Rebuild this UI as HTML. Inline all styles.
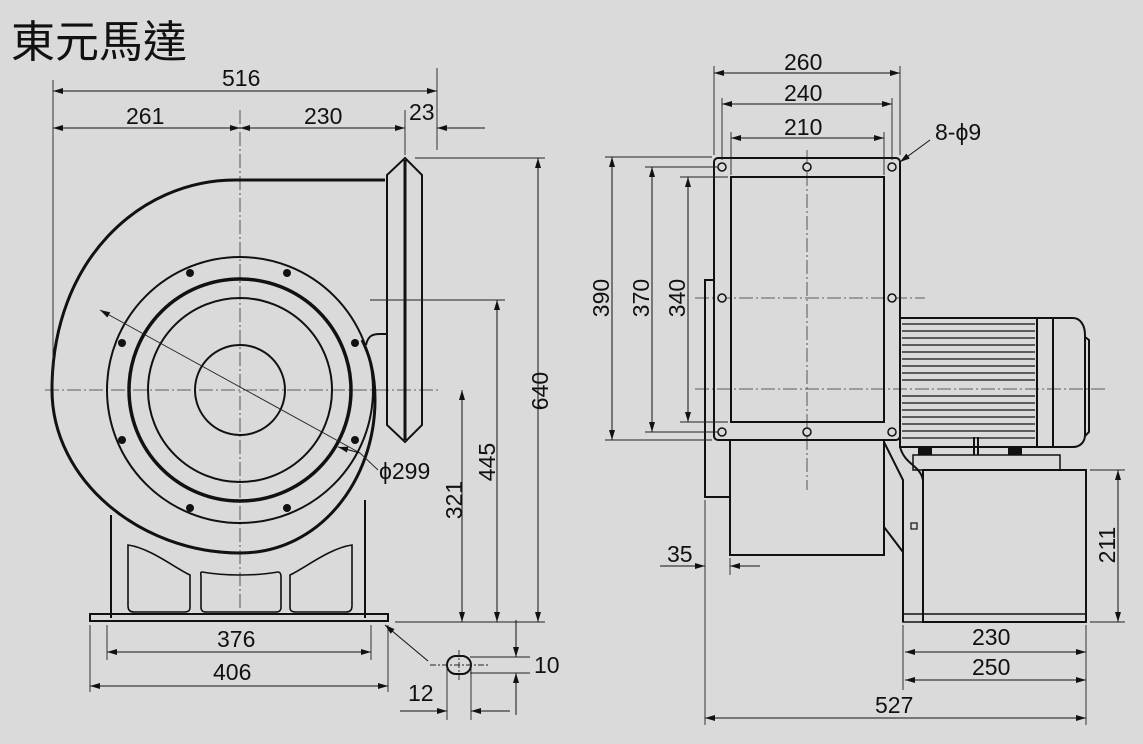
<!DOCTYPE html>
<html><head><meta charset="utf-8"><style>
html,body{margin:0;padding:0;background:#dadada;}
svg{display:block}
text{font-family:"Liberation Sans","Noto Sans CJK TC",sans-serif;fill:#111;font-size:23px}
</style></head><body>
<svg width="1143" height="744" viewBox="0 0 1143 744" xmlns="http://www.w3.org/2000/svg">
<defs>
<marker id="a" viewBox="0 0 10 6" refX="10" refY="3" markerWidth="14" markerHeight="6" markerUnits="userSpaceOnUse" orient="auto-start-reverse"><path d="M0,0 L10,3 L0,6 z" fill="#111"/></marker>
</defs>
<rect width="1143" height="744" fill="#dadada"/>
<text x="11" y="57" style="font-size:44px">東元馬達</text>

<g stroke="#333" stroke-width="0.8" stroke-dasharray="14,3,2,3" fill="none">
<line x1="240" y1="110" x2="240" y2="610"/>
<line x1="45" y1="390" x2="440" y2="390"/>
<line x1="807" y1="150" x2="807" y2="490"/>
<line x1="695" y1="298" x2="925" y2="298"/>
<line x1="695" y1="389" x2="1105" y2="389"/>
</g>

<g stroke="#111" fill="none">
<path d="M385,180 L235,180 C140,180 52,260 52,390 C52,480 140,553 240,553 C320,553 375,480 375,400 C375,370 368,352 362,340" stroke-width="3"/>
<path d="M366,345 C368,336 372,334 380,334 L387,334" stroke-width="2"/>
<polygon points="405,158 422,175 422,425 405,442 387,425 387,175" stroke-width="2"/>
<line x1="405" y1="160" x2="405" y2="440" stroke-width="3"/>
<circle cx="240" cy="390" r="133" stroke-width="2"/>
<circle cx="240" cy="390" r="111" stroke-width="3.5"/>
<circle cx="240" cy="390" r="92" stroke-width="2"/>
<circle cx="240" cy="390" r="45" stroke-width="2"/>
<line x1="111" y1="515" x2="111" y2="618" stroke-width="2"/>
<line x1="365" y1="500" x2="365" y2="618" stroke-width="2"/>
<rect x="90" y="614" width="298" height="7" stroke-width="2"/>
<path d="M128,545 C150,548 175,568 190,575 L190,607 C190,611 188,612 184,612 L134,612 C130,612 128,610 128,606 Z" stroke-width="1.6"/>
<path d="M352,545 C330,548 305,568 290,575 L290,607 C290,611 292,612 296,612 L346,612 C350,612 352,610 352,606 Z" stroke-width="1.6"/>
<path d="M202,572 C225,576 255,576 278,572 C280,572 281,574 281,577 L281,607 C281,611 279,612 276,612 L206,612 C202,612 201,610 201,607 L201,577 C201,574 200,572 202,572 Z" stroke-width="1.6"/>
<rect x="447" y="656" width="24" height="18" rx="9" stroke-width="2"/>
</g>
<g fill="#111">
<circle cx="190" cy="273" r="4"/><circle cx="287" cy="273" r="4"/>
<circle cx="122" cy="343" r="4"/><circle cx="355" cy="343" r="4"/>
<circle cx="122" cy="440" r="4"/><circle cx="355" cy="440" r="4"/>
<circle cx="190" cy="508" r="4"/><circle cx="287" cy="508" r="4"/>
</g>

<g stroke="#111" fill="none" stroke-width="2">
<rect x="714" y="158" width="186" height="282" rx="4"/>
<rect x="731" y="177" width="153" height="245"/>
<polyline points="714,280 705,280 705,497 730,497"/>
<polyline points="730,440 730,555 884,555 884,440"/>
<path d="M884,442 L903,480 L903,622 M884,527 L903,552"/>
<rect x="900" y="318" width="137" height="129"/>
<path d="M1037,318 L1073,318 C1080,318 1085,325 1085,335 L1085,435 C1085,442 1080,447 1073,447 L1037,447"/>
<line x1="1053" y1="318" x2="1053" y2="447"/>
<path d="M1085,337 L1089,340 L1089,432 L1085,436"/>
<path d="M900,447 C905,465 920,465 923,480"/>
<rect x="923" y="470" width="163" height="152"/>
<rect x="913" y="455" width="147" height="15" stroke-width="1.5"/>
<rect x="903" y="614" width="183" height="8" stroke-width="1.5"/>
<rect x="911" y="523" width="6" height="6" stroke-width="1.2"/>
<line x1="974" y1="437" x2="974" y2="455"/><line x1="978" y1="437" x2="978" y2="455"/>
</g>
<g stroke="#111" stroke-width="1.2">
<line x1="902" y1="324" x2="1035" y2="324"/><line x1="902" y1="331" x2="1035" y2="331"/>
<line x1="902" y1="338" x2="1035" y2="338"/><line x1="902" y1="345" x2="1035" y2="345"/>
<line x1="902" y1="352" x2="1035" y2="352"/><line x1="902" y1="359" x2="1035" y2="359"/>
<line x1="902" y1="366" x2="1035" y2="366"/><line x1="902" y1="373" x2="1035" y2="373"/>
<line x1="902" y1="380" x2="1035" y2="380"/><line x1="902" y1="396" x2="1035" y2="396"/>
<line x1="902" y1="403" x2="1035" y2="403"/><line x1="902" y1="410" x2="1035" y2="410"/>
<line x1="902" y1="417" x2="1035" y2="417"/><line x1="902" y1="424" x2="1035" y2="424"/>
<line x1="902" y1="431" x2="1035" y2="431"/><line x1="902" y1="438" x2="1035" y2="438"/>
</g>
<g fill="#111">
<rect x="918" y="448" width="14" height="7"/><rect x="1008" y="448" width="14" height="7"/>
</g>
<g fill="#dadada" stroke="#111" stroke-width="1.5">
<circle cx="722" cy="167" r="4"/><circle cx="807" cy="167" r="4"/><circle cx="892" cy="167" r="4"/>
<circle cx="722" cy="298" r="4"/><circle cx="892" cy="298" r="4"/>
<circle cx="722" cy="432" r="4"/><circle cx="807" cy="432" r="4"/><circle cx="892" cy="432" r="4"/>
</g>

<g stroke="#222" stroke-width="0.9" fill="none">
<line x1="53" y1="80" x2="53" y2="385"/>
<line x1="437" y1="68" x2="437" y2="150"/>
<line x1="405" y1="110" x2="405" y2="155"/>
<line x1="415" y1="158" x2="545" y2="158"/>
<line x1="370" y1="300" x2="505" y2="300"/>
<line x1="395" y1="622" x2="545" y2="622"/>
<line x1="107" y1="625" x2="107" y2="660"/><line x1="371" y1="625" x2="371" y2="660"/>
<line x1="90" y1="625" x2="90" y2="692"/><line x1="388" y1="625" x2="388" y2="692"/>
<line x1="470" y1="657" x2="530" y2="657"/><line x1="470" y1="673" x2="530" y2="673"/>
<line x1="447" y1="668" x2="447" y2="720"/><line x1="471" y1="668" x2="471" y2="720"/>
<line x1="430" y1="665" x2="490" y2="665" stroke-dasharray="6,2,2,2"/>
<line x1="459" y1="650" x2="459" y2="680" stroke-dasharray="6,2,2,2"/>
<line x1="714" y1="66" x2="714" y2="155"/><line x1="900" y1="66" x2="900" y2="155"/>
<line x1="722" y1="98" x2="722" y2="160"/><line x1="892" y1="98" x2="892" y2="160"/>
<line x1="731" y1="132" x2="731" y2="175"/><line x1="884" y1="132" x2="884" y2="175"/>
<line x1="605" y1="157" x2="712" y2="157"/><line x1="605" y1="440" x2="712" y2="440"/>
<line x1="645" y1="167" x2="718" y2="167"/><line x1="645" y1="432" x2="718" y2="432"/>
<line x1="680" y1="177" x2="728" y2="177"/><line x1="680" y1="422" x2="728" y2="422"/>
<line x1="705" y1="500" x2="705" y2="725"/><line x1="730" y1="558" x2="730" y2="575"/>
<line x1="1086" y1="625" x2="1086" y2="725"/><line x1="903" y1="625" x2="903" y2="690"/>
<line x1="1090" y1="470" x2="1125" y2="470"/><line x1="1090" y1="622" x2="1125" y2="622"/>
</g>
<g stroke="#111" stroke-width="1" fill="none" marker-start="url(#a)" marker-end="url(#a)">
<line x1="53" y1="91" x2="437" y2="91"/>
<line x1="53" y1="128" x2="240" y2="128"/>
<line x1="240" y1="128" x2="405" y2="128"/>
<line x1="538" y1="158" x2="538" y2="622"/>
<line x1="497" y1="300" x2="497" y2="622"/>
<line x1="462" y1="390" x2="462" y2="622"/>
<line x1="107" y1="652" x2="371" y2="652"/>
<line x1="90" y1="686" x2="388" y2="686"/>
<line x1="714" y1="73" x2="900" y2="73"/>
<line x1="722" y1="104" x2="892" y2="104"/>
<line x1="731" y1="138" x2="884" y2="138"/>
<line x1="612" y1="157" x2="612" y2="440"/>
<line x1="652" y1="167" x2="652" y2="432"/>
<line x1="688" y1="177" x2="688" y2="422"/>
<line x1="1118" y1="470" x2="1118" y2="622"/>
<line x1="905" y1="652" x2="1086" y2="652"/>
<line x1="905" y1="680" x2="1086" y2="680"/>
<line x1="705" y1="718" x2="1086" y2="718"/>
</g>
<g stroke="#111" stroke-width="1" fill="none" marker-end="url(#a)">
<line x1="485" y1="128" x2="437" y2="128"/>
<line x1="516" y1="620" x2="516" y2="657"/>
<line x1="516" y1="715" x2="516" y2="673"/>
<line x1="400" y1="711" x2="447" y2="711"/>
<line x1="510" y1="711" x2="471" y2="711"/>
<line x1="660" y1="566" x2="705" y2="566"/>
<line x1="760" y1="566" x2="730" y2="566"/>
<line x1="428" y1="661" x2="385" y2="625"/>
<line x1="360" y1="453" x2="338" y2="447"/>
<line x1="930" y1="140" x2="900" y2="162"/>
</g>
<line x1="100" y1="310" x2="360" y2="453" stroke="#222" stroke-width="0.9" marker-start="url(#a)"/>
<line x1="360" y1="453" x2="378" y2="470" stroke="#222" stroke-width="0.9"/>

<text x="222" y="86">516</text>
<text x="126" y="124">261</text>
<text x="304" y="124">230</text>
<text x="409" y="120">23</text>
<text x="379" y="479">ϕ299</text>
<text transform="translate(548,391) rotate(-90)" text-anchor="middle">640</text>
<text transform="translate(495,462) rotate(-90)" text-anchor="middle">445</text>
<text transform="translate(462,500) rotate(-90)" text-anchor="middle">321</text>
<text x="217" y="647">376</text>
<text x="213" y="680">406</text>
<text x="534" y="673">10</text>
<text x="408" y="701">12</text>
<text x="784" y="70">260</text>
<text x="784" y="101">240</text>
<text x="784" y="135">210</text>
<text x="935" y="140">8-ϕ9</text>
<text transform="translate(609,298) rotate(-90)" text-anchor="middle">390</text>
<text transform="translate(649,298) rotate(-90)" text-anchor="middle">370</text>
<text transform="translate(685,298) rotate(-90)" text-anchor="middle">340</text>
<text x="667" y="562">35</text>
<text transform="translate(1115,545) rotate(-90)" text-anchor="middle">211</text>
<text x="972" y="645">230</text>
<text x="972" y="675">250</text>
<text x="875" y="713">527</text>
</svg>
</body></html>
